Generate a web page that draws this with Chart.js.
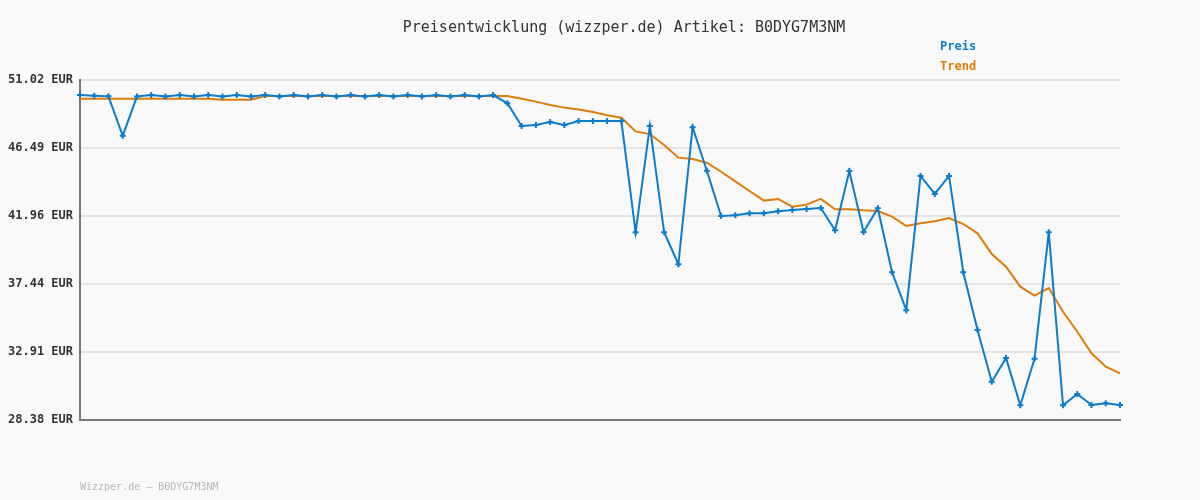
<!DOCTYPE html>
<html>
<head>
<meta charset="utf-8">
<script src="https://cdn.jsdelivr.net/npm/chart.js@4/dist/chart.umd.min.js"></script>
<style>
  html, body { margin: 0; padding: 0; background: #f9f9f9; }
  #wrap { position: relative; width: 1200px; height: 500px; }
  canvas { display: block; }
</style>
</head>
<body>
<div id="wrap"><canvas id="c" width="1200" height="500"></canvas></div>
<script>
const titleText = 'Preisentwicklung (wizzper.de) Artikel: B0DYG7M3NM';
const footerText = 'Wizzper.de \u2013 B0DYG7M3NM';
const seriesNames = ['Preis', 'Trend'];

const preis = [
  50.02, 49.97, 49.93, 47.31, 49.92, 50.02, 49.92, 50.02, 49.92, 50.02,
  49.92, 50.02, 49.92, 50.02, 49.92, 50.02, 49.92, 50.02, 49.92, 50.02,
  49.92, 50.02, 49.92, 50.02, 49.92, 50.02, 49.92, 50.02, 49.92, 50.02,
  49.47, 47.96, 48.02, 48.22, 48.02, 48.29, 48.29, 48.29, 48.29, 40.88,
  47.96, 40.88, 38.75, 47.87, 44.98, 41.96, 42.01, 42.14, 42.14, 42.28,
  42.36, 42.43, 42.50, 41.01, 44.96, 40.90, 42.48, 38.22, 35.69, 44.63,
  43.43, 44.63, 38.22, 34.37, 30.93, 32.51, 29.36, 32.46, 40.88, 29.36,
  30.11, 29.38, 29.49, 29.38
];

const trend = [
  49.77, 49.77, 49.77, 49.77, 49.77, 49.77, 49.77, 49.77, 49.77, 49.77,
  49.70, 49.70, 49.70, 49.95, 49.95, 49.95, 49.95, 49.95, 49.95, 49.95,
  49.95, 49.95, 49.95, 49.95, 49.95, 49.95, 49.95, 49.95, 49.95, 49.95,
  49.95, 49.77, 49.58, 49.36, 49.18, 49.06, 48.89, 48.67, 48.51, 47.60,
  47.42, 46.69, 45.85, 45.76, 45.51, 44.91, 44.27, 43.63, 42.99, 43.10,
  42.58, 42.72, 43.10, 42.41, 42.41, 42.34, 42.30, 41.92, 41.30, 41.48,
  41.61, 41.83, 41.43, 40.81, 39.43, 38.59, 37.26, 36.66, 37.17, 35.59,
  34.26, 32.82, 31.93, 31.49
];

const categories = preis.map((_, i) => String(i + 1));

const yTickValues = [28.38, 32.91, 37.44, 41.96, 46.49, 51.02];
const yTickLabels = ['28.38 EUR', '32.91 EUR', '37.44 EUR', '41.96 EUR', '46.49 EUR', '51.02 EUR'];

const BLUE = '#0c7bcc';
const ORANGE = '#e07b0a';
const MONO = '"DejaVu Sans Mono", "Liberation Mono", monospace';

const bgPlugin = {
  id: 'bg',
  beforeDraw(chart) {
    const ctx = chart.ctx;
    ctx.save();
    ctx.fillStyle = '#f9f9f9';
    ctx.fillRect(0, 0, chart.width, chart.height);
    ctx.restore();
  },
  afterDraw(chart) {
    const ctx = chart.ctx;
    ctx.save();
    ctx.textBaseline = 'middle';
    ctx.fillStyle = '#333333';
    ctx.font = '15px ' + MONO;
    ctx.textAlign = 'center';
    ctx.fillText(titleText, 624, 28);
    ctx.textAlign = 'left';
    ctx.font = 'bold 12px ' + MONO;
    ctx.fillStyle = BLUE;
    ctx.fillText(seriesNames[0], 940, 47);
    ctx.fillStyle = ORANGE;
    ctx.fillText(seriesNames[1], 940, 67);
    ctx.font = '10px ' + MONO;
    ctx.fillStyle = '#b8b8b8';
    ctx.fillText(footerText, 80, 487);
    ctx.restore();
  }
};

new Chart(document.getElementById('c'), {
  type: 'line',
  data: {
    labels: categories,
    datasets: [
      {
        label: seriesNames[1],
        data: trend,
        borderColor: ORANGE,
        backgroundColor: ORANGE,
        borderWidth: 2,
        pointRadius: 0,
        tension: 0,
        order: 2
      },
      {
        label: seriesNames[0],
        data: preis,
        borderColor: BLUE,
        backgroundColor: BLUE,
        borderWidth: 2,
        pointStyle: 'cross',
        pointRadius: 3,
        pointBorderWidth: 2,
        pointBorderColor: BLUE,
        tension: 0,
        order: 1
      }
    ]
  },
  options: {
    responsive: false,
    animation: false,
    devicePixelRatio: 1,
    layout: { padding: { left: 0, right: 80, top: 80, bottom: 80 } },
    plugins: {
      legend: { display: false },
      title: { display: false },
      tooltip: { enabled: false }
    },
    scales: {
      x: {
        type: 'category',
        offset: false,
        grid: { display: false, drawTicks: false },
        border: { display: true, color: '#777777', width: 2 },
        ticks: { display: false },
        afterFit(s) { s.height = 0; }
      },
      y: {
        min: yTickValues[0],
        max: yTickValues[yTickValues.length - 1],
        afterBuildTicks(s) { s.ticks = yTickValues.map(v => ({ value: v })); },
        afterFit(s) { s.width = 80; },
        grid: { color: '#e4e4e4', lineWidth: 2, drawTicks: false },
        border: { display: true, color: '#777777', width: 2 },
        ticks: {
          padding: 7,
          color: '#333333',
          font: { family: MONO, size: 12, weight: 'bold' },
          callback(v, i) { return yTickLabels[i]; }
        }
      }
    }
  },
  plugins: [bgPlugin]
});
</script>
</body>
</html>
